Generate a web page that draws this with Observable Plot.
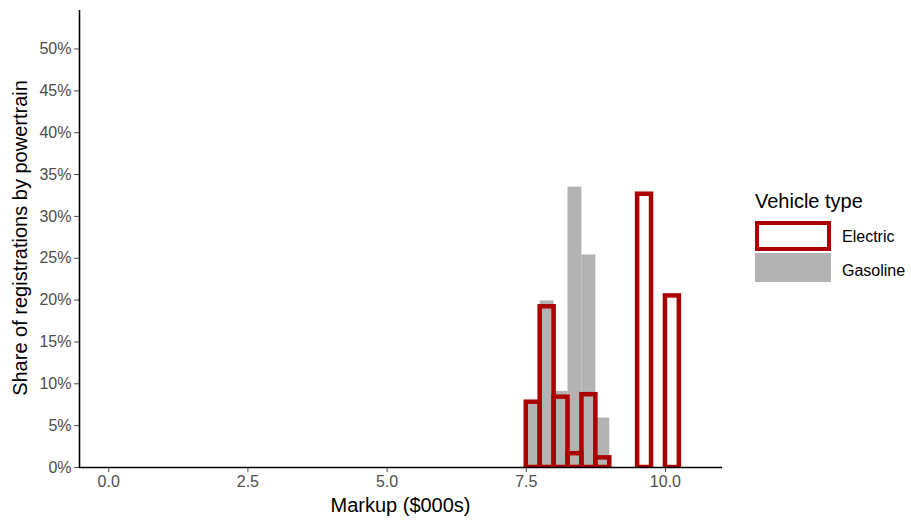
<!DOCTYPE html>
<html>
<head>
<meta charset="utf-8">
<script src="https://cdn.jsdelivr.net/npm/d3@7"></script>
<script src="https://cdn.jsdelivr.net/npm/@observablehq/plot@0.6"></script>
<style>
  body { margin: 0; background: #ffffff; }
  #wrap { position: relative; width: 911px; height: 522px; font-family: "Liberation Sans", Arial, Helvetica, sans-serif; color: #000; }
  #wrap svg { position: absolute; left: 0; top: 0; }
  .abs { position: absolute; white-space: nowrap; }
  .title { font-size: 20px; line-height: 20px; }
  .lab { font-size: 16px; line-height: 16px; }
</style>
</head>
<body>
<div id="wrap"></div>
<script>
// ---- data ----
const binWidth = 0.25;                       // $000s
const gasolineBinStart = [7.5, 7.75, 8.0, 8.25, 8.5, 8.75];
const gasolineShare    = [0.076, 0.199, 0.091, 0.335, 0.254, 0.059];
const electricBinStart = [7.5, 7.75, 8.0, 8.25, 8.5, 8.75, 9.5, 10.0];
const electricShare    = [0.078, 0.192, 0.084, 0.0165, 0.087, 0.0115, 0.3265, 0.205];
const xTicks = [0, 2.5, 5, 7.5, 10];
const yTicks = [0, 0.05, 0.10, 0.15, 0.20, 0.25, 0.30, 0.35, 0.40, 0.45, 0.50];
const xDomain = [-0.525, 11.025];
const yDomain = [0, 0.546];
const seriesNames = ["Electric", "Gasoline"];
const xTitle = "Markup ($000s)";
const yTitle = "Share of registrations by powertrain";
const legendTitle = "Vehicle type";

const electricColor = "#aa0000";
const gasolineColor = "#b3b3b3";

const gasoline = gasolineBinStart.map((s, i) => ({start: s, end: s + binWidth, share: gasolineShare[i]}));
const electric = electricBinStart.map((s, i) => ({start: s, end: s + binWidth, share: electricShare[i]}));

const chart = Plot.plot({
  width: 911,
  height: 522,
  marginLeft: 79,
  marginRight: 189,
  marginTop: 10,
  marginBottom: 55,
  style: {fontFamily: '"Liberation Sans", Arial, Helvetica, sans-serif', background: "transparent"},
  x: {domain: xDomain},
  y: {domain: yDomain},
  marks: [
    Plot.rect(gasoline, {x1: "start", x2: "end", y1: 0, y2: "share", fill: gasolineColor}),
    Plot.rect(electric, {x1: "start", x2: "end", y1: 0, y2: "share", fill: "none", stroke: electricColor, strokeWidth: 4.5, clip: true}),
    Plot.axisX(xTicks, {tickSize: 5, tickPadding: 3, tickFormat: d3.format(".1f"), fontSize: 16, color: "#4d4d4d", label: null}),
    Plot.axisY(yTicks, {tickSize: 5, tickPadding: 3, tickFormat: d3.format(".0%"), fontSize: 16, color: "#4d4d4d", label: null}),
    Plot.ruleY([yDomain[0]], {stroke: "#000", strokeWidth: 1.6}),
    Plot.ruleX([xDomain[0]], {stroke: "#000", strokeWidth: 1.6})
  ]
});

const wrap = document.getElementById("wrap");
wrap.appendChild(chart);

function addDiv(cls, text, css) {
  const d = document.createElement("div");
  d.className = "abs " + cls;
  d.textContent = text;
  Object.assign(d.style, css);
  wrap.appendChild(d);
  return d;
}

// axis titles
addDiv("title", xTitle, {left: "79px", width: "643px", textAlign: "center", top: "495px"});
addDiv("title", yTitle, {left: "-210px", width: "460px", textAlign: "center", top: "228px", transform: "rotate(-90deg)", transformOrigin: "50% 50%"});

// legend
addDiv("title", legendTitle, {left: "755px", top: "191px"});
addDiv("", "", {left: "754.5px", top: "220.5px", width: "76px", height: "30px", border: "4.5px solid " + electricColor, boxSizing: "border-box"});
addDiv("", "", {left: "754.5px", top: "252.5px", width: "76px", height: "29.5px", background: gasolineColor});
addDiv("lab", seriesNames[0], {left: "842px", top: "229px"});
addDiv("lab", seriesNames[1], {left: "842px", top: "263px"});
</script>
</body>
</html>
